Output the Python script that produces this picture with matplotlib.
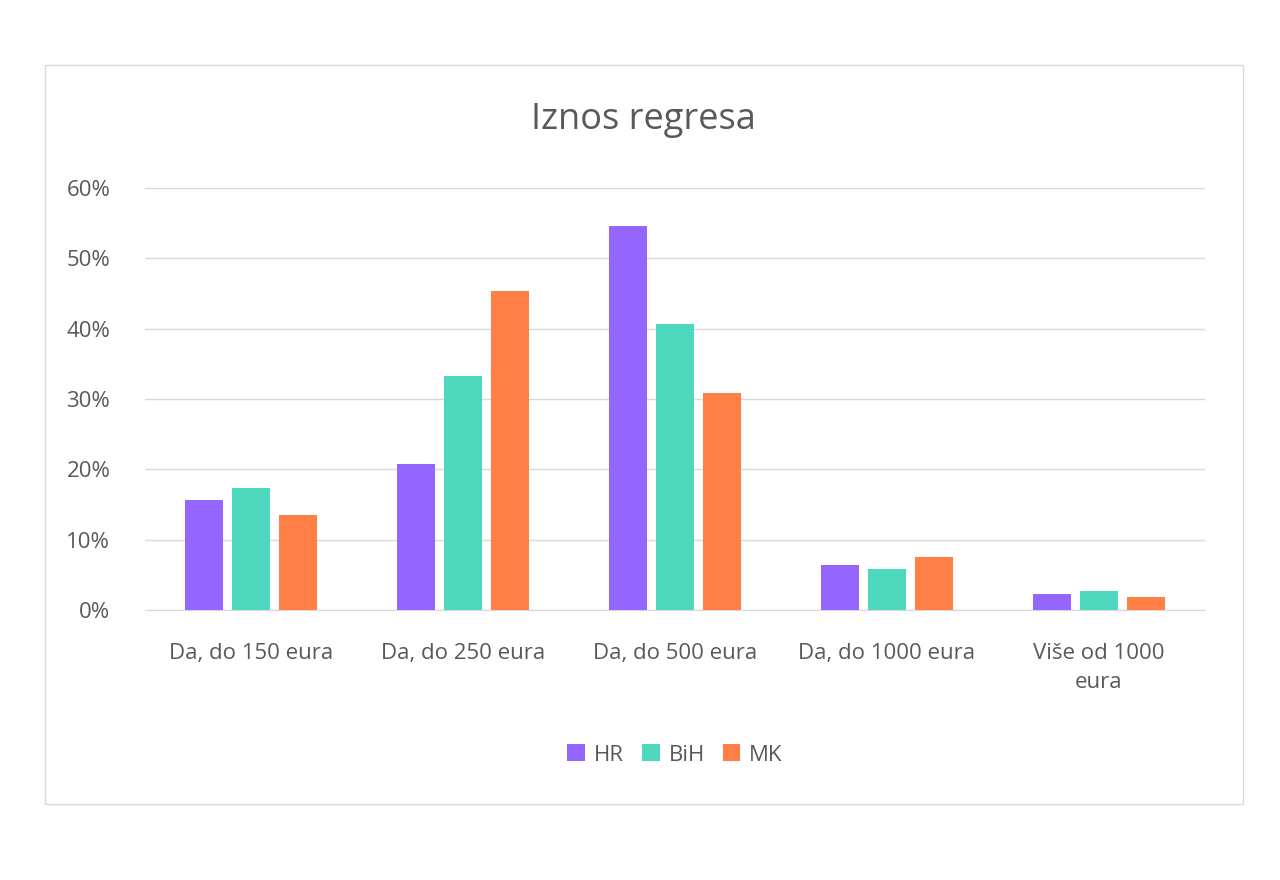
import matplotlib
matplotlib.use("Agg")
import matplotlib.pyplot as plt
import numpy as np
from matplotlib.patches import Rectangle

categories = ["Da, do 150 eura", "Da, do 250 eura", "Da, do 500 eura",
              "Da, do 1000 eura", "Više od 1000\neura"]
hr = [15.6, 20.8, 54.6, 6.4, 2.3]
bih = [17.3, 33.2, 40.6, 5.8, 2.7]
mk = [13.5, 45.4, 30.9, 7.5, 1.8]
series = [("HR", hr, "#9466ff"), ("BiH", bih, "#4dd8be"), ("MK", mk, "#ff7f45")]

plt.rcParams["font.family"] = ["Open Sans", "DejaVu Sans"]
fig = plt.figure(figsize=(12.8, 8.8), dpi=100)
fig.patches.append(Rectangle((45 / 1280, 1 - 804 / 880), 1198 / 1280, 739 / 880,
                             transform=fig.transFigure, fill=False,
                             edgecolor="#d9d9d9", linewidth=1))

ax = fig.add_axes([145 / 1280, 1 - 610 / 880, 1060 / 1280, 422 / 880])
x = np.arange(len(categories))
w = 0.22
for i, (name, vals, col) in enumerate(series):
    ax.bar(x + (i - 1) * w, vals, width=w * 0.82, color=col, label=name, zorder=3)

ax.set_xlim(-0.5, len(categories) - 0.5)
ax.set_ylim(0, 60)
ax.set_yticks(range(0, 61, 10))
ax.set_yticklabels([f"{v}%" for v in range(0, 61, 10)])
ax.set_xticks(x)
ax.set_xticklabels(categories, linespacing=1.5)
ax.grid(axis="y", color="#d9d9d9", linewidth=1, zorder=0)
for s in ["top", "right", "left"]:
    ax.spines[s].set_visible(False)
ax.spines["bottom"].set_color("#d9d9d9")
ax.tick_params(length=0, labelsize=16, colors="#595959")
ax.tick_params(axis="x", pad=24)
ax.tick_params(axis="y", pad=25)

fig.text(643 / 1280, 1 - 120 / 880, "Iznos regresa", ha="center", va="center",
         fontsize=26, color="#595959")
ax.legend(loc="center", bbox_to_anchor=(0.5, (610 - 755) / 422), ncol=3,
          frameon=False, fontsize=16, labelcolor="#595959",
          handlelength=0.8, handleheight=0.8, columnspacing=0.8, handletextpad=0.4)

fig.savefig("out.png", dpi=100)
